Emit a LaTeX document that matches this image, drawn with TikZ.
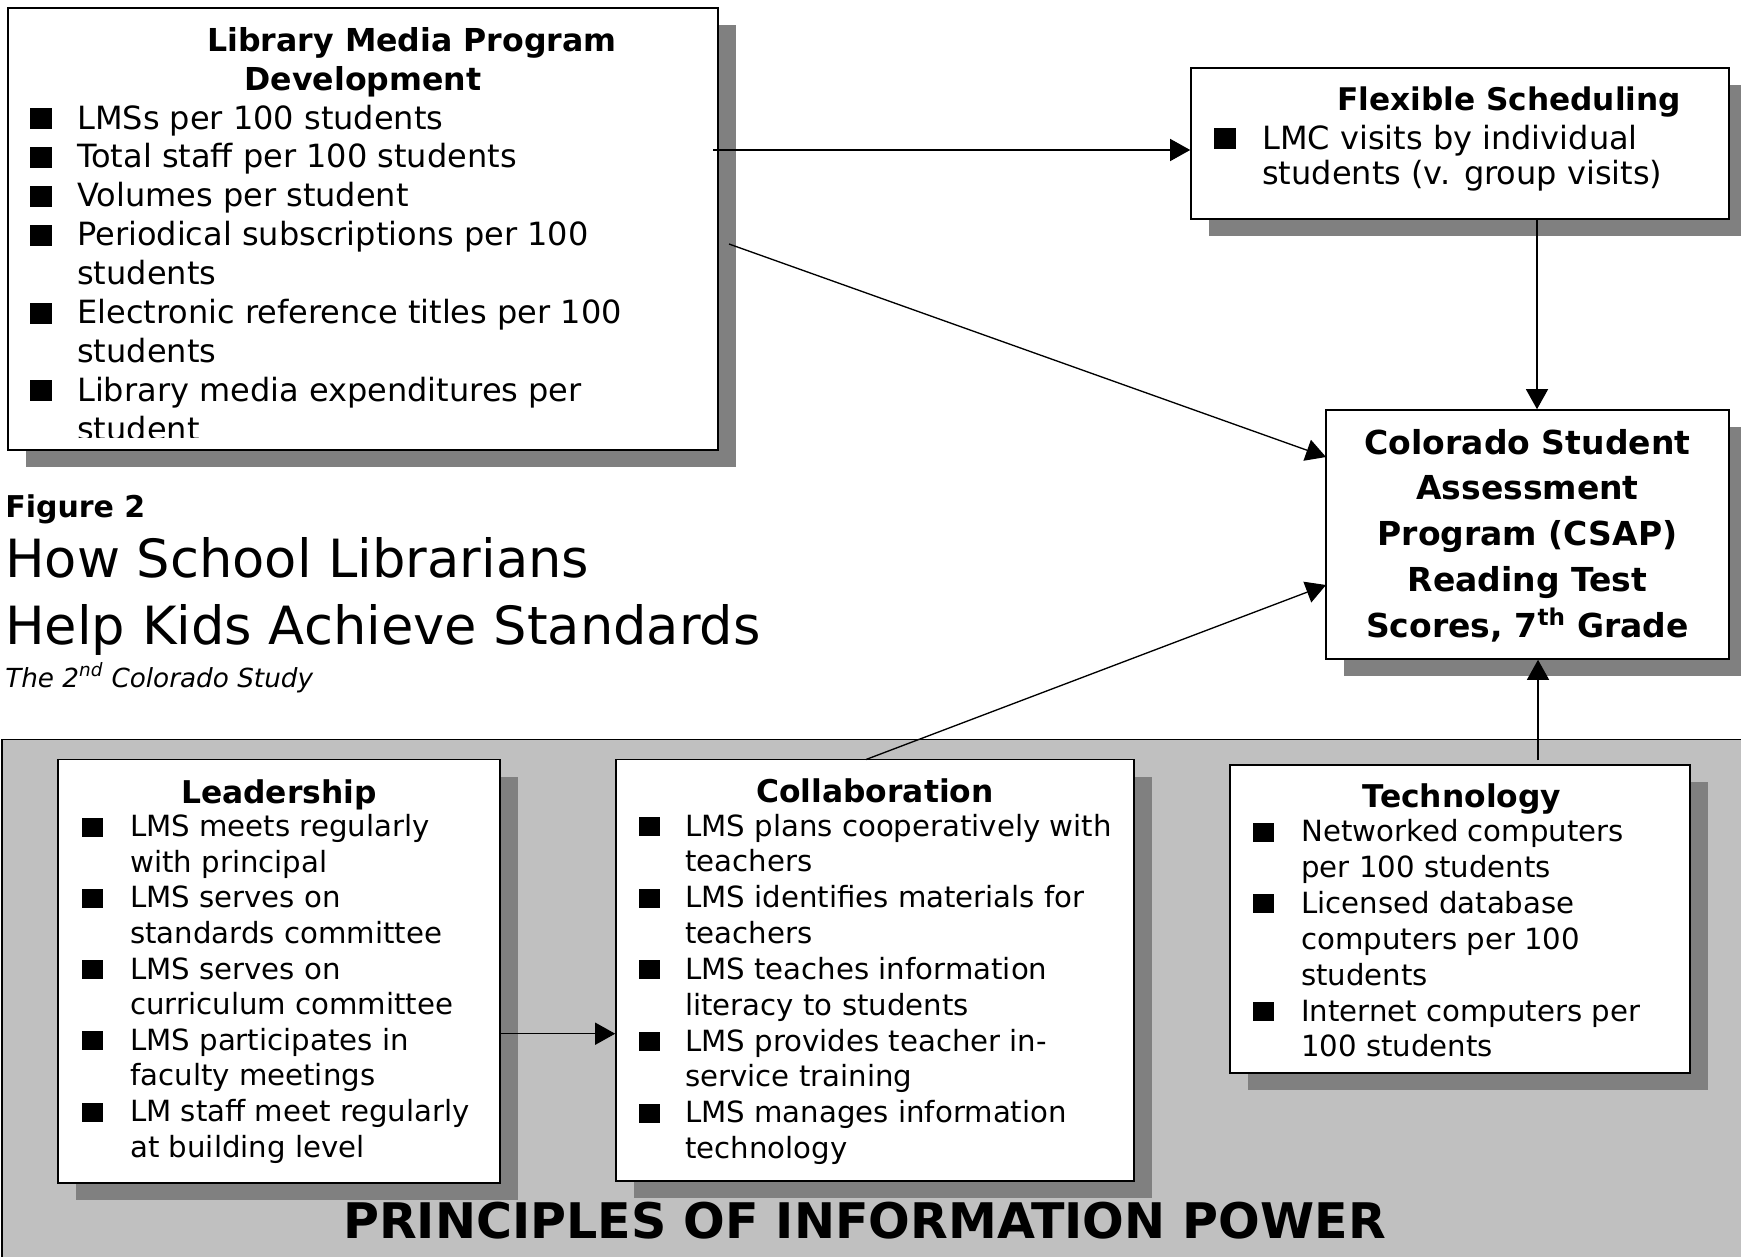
\documentclass[tikz,border=0pt]{standalone}
\usepackage{fontspec}
\setmainfont{DejaVu Sans}
\usetikzlibrary{arrows.meta,fit,shadows}
\definecolor{bandgray}{RGB}{192,192,192}
\definecolor{shgray}{RGB}{128,128,128}
\tikzset{
  x=0.75pt, y=-0.75pt,
  box/.style={draw=black, line width=1.2pt, fill=white, inner sep=0pt,
    drop shadow={shadow xshift=13.5pt, shadow yshift=-12.75pt, fill=shgray, opacity=1}},
  itemtop/.style={anchor=base west, inner sep=0pt, font=\fontsize{24}{29}\selectfont},
  itembot/.style={anchor=base west, inner sep=0pt, font=\fontsize{21.9}{26}\selectfont},
  boxtitle/.style={anchor=base, inner sep=0pt, font=\fontsize{23.5}{28}\selectfont\bfseries},
  conn/.style={line width=1pt, -{Triangle[length=15pt, width=16.5pt]}},
}
\begin{document}
\begin{tikzpicture}
\useasboundingbox (0,0) rectangle (1741,1256);
\fill[white] (0,0) rectangle (1741,1256);

% bottom band
\node[fit={(2,739.5) (1760,1270)}, inner sep=0pt, fill=bandgray, draw=black, line width=1.2pt] (band) {};

% boxes
\node[box, fit={(8,8) (718,450)}] (lmpd) {};
\node[box, fit={(1191,68) (1729,219)}] (flex) {};
\node[box, fit={(1326,410) (1729,659)}] (csap) {};
\node[box, fit={(58,759.5) (500,1183)}] (lead) {};
\node[box, fit={(616,759.5) (1134,1181)}] (collab) {};
\node[box, fit={(1230,765) (1690,1073)}] (tech) {};

% Library Media Program Development
\node[boxtitle, font=\fontsize{23.7}{28}\selectfont\bfseries] (lmpd-t1) at (412,51.5) {Library Media Program};
\node[boxtitle, font=\fontsize{23.7}{28}\selectfont\bfseries] (lmpd-t2) at (363,90.5) {Development};
\begin{scope}
\clip (8,8) rectangle (718,437);
\foreach \b/\t [count=\i from 0] in {1/LMSs per 100 students, 1/Total staff per 100 students, 1/Volumes per student, 1/Periodical subscriptions per 100, 0/students, 1/Electronic reference titles per 100, 0/students, 1/Library media expenditures per, 0/student}{
  \pgfmathsetmacro\yy{129+38.9*\i}
  \node[itemtop] (lmpd-\i) at (77,\yy) {\t};
  \ifnum\b=1 \fill (30,\yy) rectangle ++(22,-21); \fi
}
\end{scope}

% Flexible Scheduling
\node[boxtitle, font=\fontsize{23.4}{28}\selectfont\bfseries] (flex-t) at (1509,110) {Flexible Scheduling};
\foreach \b/\t [count=\i from 0] in {1/LMC visits by individual, 0/students (v. group visits)}{
  \pgfmathsetmacro\yy{149+35.7*\i}
  \node[itemtop] (flex-\i) at (1262,\yy) {\t};
  \ifnum\b=1 \fill (1214,\yy) rectangle ++(22,-21); \fi
}

% CSAP
\foreach \t [count=\i from 0] in {Colorado Student, Assessment, Program (CSAP), Reading Test, {Scores, 7\textsuperscript{th} Grade}}{
  \pgfmathsetmacro\yy{454+45.8*\i}
  \node[boxtitle, font=\fontsize{24.75}{30}\selectfont\bfseries] (csap-\i) at (1527.5,\yy) {\t};
}

% Leadership
\node[boxtitle] (lead-t) at (279,803) {Leadership};
\foreach \b/\t [count=\i from 0] in {1/LMS meets regularly, 0/with principal, 1/LMS serves on, 0/standards committee, 1/LMS serves on, 0/curriculum committee, 1/LMS participates in, 0/faculty meetings, 1/LM staff meet regularly, 0/at building level}{
  \pgfmathsetmacro\yy{836.7+35.6*\i}
  \node[itembot] (lead-\i) at (130,\yy) {\t};
  \ifnum\b=1 \fill (82,\yy) rectangle ++(21,-19); \fi
}

% Collaboration
\node[boxtitle] (collab-t) at (875,802) {Collaboration};
\foreach \b/\t [count=\i from 0] in {1/LMS plans cooperatively with, 0/teachers, 1/LMS identifies materials for, 0/teachers, 1/LMS teaches information, 0/literacy to students, 1/LMS provides teacher in-, 0/service training, 1/LMS manages information, 0/technology}{
  \pgfmathsetmacro\yy{836+35.85*\i}
  \node[itembot] (collab-\i) at (685,\yy) {\t};
  \ifnum\b=1 \fill (638.5,\yy) rectangle ++(21,-19); \fi
}

% Technology
\node[boxtitle] (tech-t) at (1462,807) {Technology};
\foreach \b/\t [count=\i from 0] in {1/Networked computers, 0/per 100 students, 1/Licensed database, 0/computers per 100, 0/students, 1/Internet computers per, 0/100 students}{
  \pgfmathsetmacro\yy{841.5+35.9*\i}
  \node[itembot] (tech-\i) at (1301,\yy) {\t};
  \ifnum\b=1 \fill (1252.5,\yy) rectangle ++(21,-19); \fi
}

% Figure title
\node[anchor=base west, inner sep=0pt, font=\fontsize{22.5}{27}\selectfont\bfseries] (fig) at (5,517) {Figure 2};
\node[anchor=base west, inner sep=0pt, font=\fontsize{39.5}{47}\selectfont] (title1) at (5,577) {How School Librarians};
\node[anchor=base west, inner sep=0pt, font=\fontsize{39.5}{47}\selectfont] (title2) at (5,644) {Help Kids Achieve Standards};
\node[anchor=base west, inner sep=0pt, font=\fontsize{19.7}{24}\selectfont\itshape] (sub) at (5,687) {The 2\textsuperscript{nd} Colorado Study};

% Band label
\node[anchor=base, inner sep=0pt, font=\fontsize{36.8}{44}\selectfont\bfseries] (principles) at (864.5,1238) {PRINCIPLES OF INFORMATION POWER};

% connectors
\coordinate (lmpdA) at (713,150);
\coordinate (lmpdB) at (729,244);
\coordinate (collabA) at (866,759.5);
\coordinate (techA) at (1538,760);
\draw[conn] (lmpdA) -- (lmpdA -| flex.west);
\draw[conn] (lmpdB) -- (1326,457) coordinate (csapA);
\draw[conn] (flex.south -| 1537,0) -- (csap.north -| 1537,0);
\draw[conn] (collabA) -- (1326,585) coordinate (csapB);
\draw[conn] (techA) -- (csap.south -| techA);
\draw[conn] (lead.east |- 0,1033.7) -- (collab.west |- 0,1033.7);
\end{tikzpicture}
\end{document}
